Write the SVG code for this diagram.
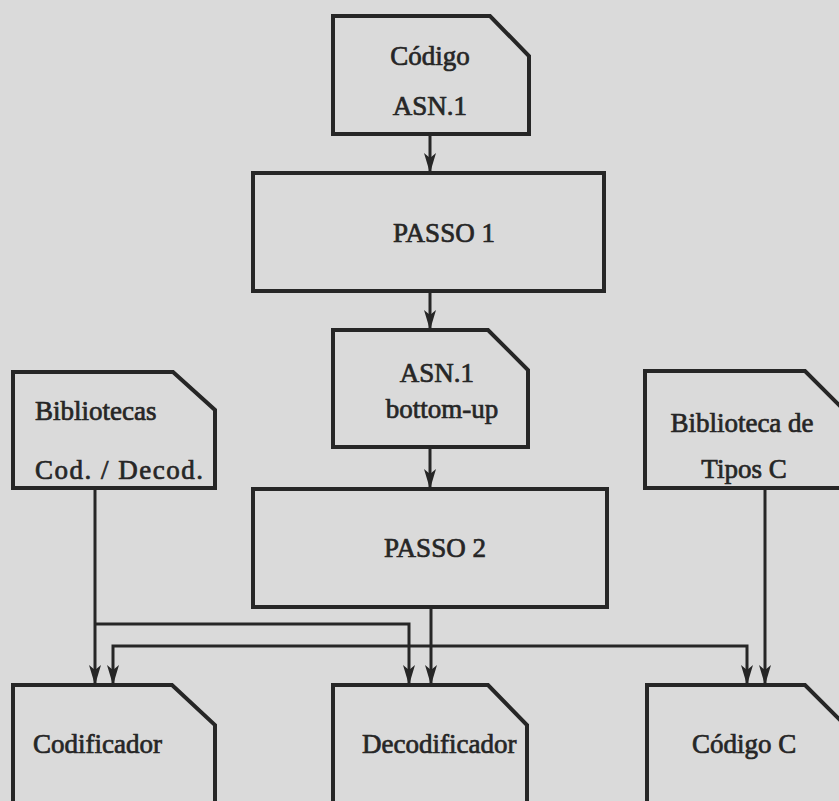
<svg xmlns="http://www.w3.org/2000/svg" width="839" height="801" viewBox="0 0 839 801">
  <style>
    .box { fill: none; stroke: #262626; stroke-width: 4; stroke-linejoin: miter; }
    .lbl { font-family: "Liberation Serif", "DejaVu Serif", serif; font-size: 27px; fill: #262626; stroke: #262626; stroke-width: 0.7; }
    .mid { text-anchor: middle; }
    .con { fill: none; stroke: #262626; stroke-width: 3; }
  </style>
  <defs>
    <marker id="arr" viewBox="0 0 20 12" refX="20" refY="6" markerUnits="userSpaceOnUse" markerWidth="20" markerHeight="12" orient="auto">
      <path d="M0,0 L20,6 L0,12 L5,6 z" fill="#262626"/>
    </marker>
  </defs>
  <rect x="0" y="0" width="839" height="801" fill="#dadada"/>

  <g id="codigo-asn1">
    <path class="box" d="M333,16 L490,16 L529,56 L529,134 L333,134 Z"/>
    <text class="lbl mid" x="430" y="65">Código</text>
    <text class="lbl mid" x="430" y="115">ASN.1</text>
  </g>

  <g id="passo1">
    <rect class="box" x="253" y="173" width="351" height="118"/>
    <text class="lbl mid" x="444" y="242">PASSO 1</text>
  </g>

  <g id="asn1-bottom-up">
    <path class="box" d="M333,330 L488,330 L528,370 L528,447 L333,447 Z"/>
    <text class="lbl mid" x="437" y="382">ASN.1</text>
    <text class="lbl mid" x="442" y="418">bottom-up</text>
  </g>

  <g id="bibliotecas">
    <path class="box" d="M13,372 L173,372 L215,410 L215,488 L13,488 Z"/>
    <text class="lbl" x="35" y="420">Bibliotecas</text>
    <text class="lbl" x="35" y="479" textLength="168" lengthAdjust="spacing">Cod. / Decod.</text>
  </g>

  <g id="biblioteca-tipos-c">
    <path class="box" d="M645,371 L805,371 L845,411 L845,488 L645,488 Z"/>
    <text class="lbl mid" x="742" y="432">Biblioteca de</text>
    <text class="lbl mid" x="744" y="478">Tipos C</text>
  </g>

  <g id="passo2">
    <rect class="box" x="253" y="489" width="354" height="118"/>
    <text class="lbl mid" x="435" y="557">PASSO 2</text>
  </g>

  <g id="codificador">
    <path class="box" d="M13,820 L13,685 L172,685 L215,725 L215,820"/>
    <text class="lbl" x="33" y="753">Codificador</text>
  </g>

  <g id="decodificador">
    <path class="box" d="M333,820 L333,685 L488,685 L527,725 L527,820"/>
    <text class="lbl" x="362" y="753">Decodificador</text>
  </g>

  <g id="codigo-c">
    <path class="box" d="M647,820 L647,685 L805,685 L845,725 L845,820"/>
    <text class="lbl" x="692" y="753">Código C</text>
  </g>

  <g id="connectors">
    <path class="con" d="M430,134 L430,173" marker-end="url(#arr)"/>
    <path class="con" d="M430,291 L430,330" marker-end="url(#arr)"/>
    <path class="con" d="M430,447 L430,489" marker-end="url(#arr)"/>
    <path class="con" d="M431,607 L431,685" marker-end="url(#arr)"/>
    <path class="con" d="M95,488 L95,685" marker-end="url(#arr)"/>
    <path class="con" d="M95,624 L409,624 L409,685" marker-end="url(#arr)"/>
    <path class="con" d="M431,646 L113,646 L113,685" marker-end="url(#arr)"/>
    <path class="con" d="M431,646 L747,646 L747,685" marker-end="url(#arr)"/>
    <path class="con" d="M765,488 L765,685" marker-end="url(#arr)"/>
  </g>
</svg>
